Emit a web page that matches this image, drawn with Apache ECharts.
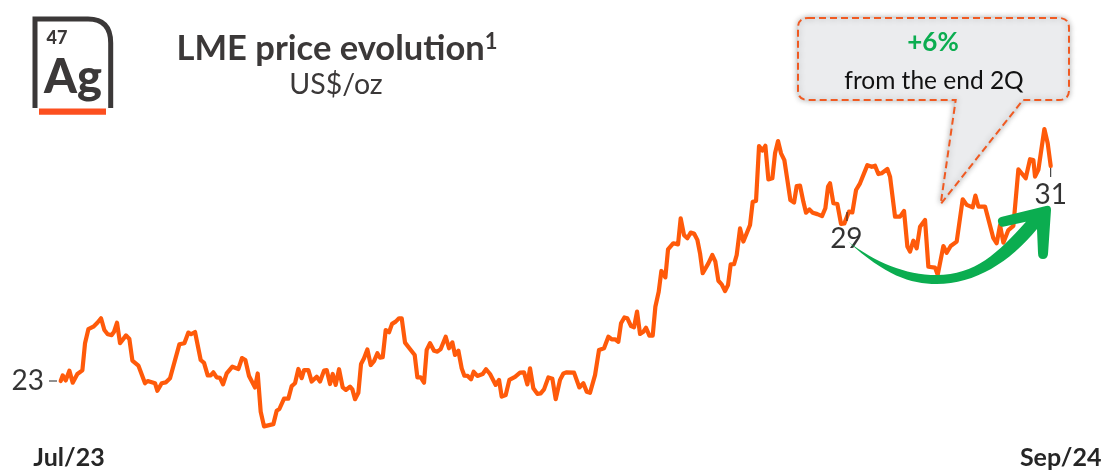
<!DOCTYPE html>
<html><head><meta charset="utf-8">
<style>html,body{margin:0;padding:0;background:#fff}#c{width:1106px;height:470px}</style>
<script src="https://cdn.jsdelivr.net/npm/echarts@6/dist/echarts.min.js"></script>
</head><body><div id="c"></div>
<script>
const days = [0,0.6,1.5,2.6,3.6,5,6.5,7.3,8.3,9.8,11,12.1,13.1,14.1,15.3,16,16.9,17.8,19.6,20.6,21.5,23.3,25.3,26.1,28.3,29,30.3,31.5,32.8,35.6,37.1,38.3,39.1,40.3,42,43,44.1,45,45.8,46.8,47.8,48.7,49.8,51.5,53.3,54.4,55.4,56.5,58.3,59.1,60,61,63.8,64.8,65.6,67,68.3,69.3,70.3,71.3,
72.3,73,74.3,75.3,76.8,77.8,79,79.8,80.8,81.6,82.5,83.5,84.6,85.6,86.8,87.5,88.3,89.3,90.1,91,92,93,94,95,95.8,96.6,97.5,98.5,99.4,100.5,101.5,102.3,103.3,104.6,106.2,107,108,109,109.8,110.8,112,113,114,115.5,116.5,117.5,118.3,119.3,120.3,121.1,122.1,123.1,123.9,125,126.6,127.6,128.8,130.5,131.5,132.3,133.5,134.6,136.3,137.8,139,140,140.8,141.8,143,144,145,146.3,147.5,148.5,149.8,150.8,151.8,154,155.6,156.8,157.8,158.8,160.3,161.5,
162,163,164.3,165.3,166.3,167.3,168.1,169.1,170,171.1,172,172.9,173.8,174.8,175.6,176.6,177.6,178.4,179.4,180.2,181.4,182.2,183.8,185.2,186,187,188,189,190,191,191.8,192.6,194.3,195.5,196.4,197.3,198.3,199.3,200.2,201,202,202.8,203.8,204.8,206.8,207.6,208.6,209.5,210.5,211.4,212.3,213.5,214.3,215.2,216.1,217.1,218,218.9,220,220.8,221.8,222.8,223.6,224.6,225.6,227,227.6,228.4,229.4,230.2,230.8,
231.8,233,234.1,235.1,236.5,237.5,238.6,239.8,242,243.3,244.3,245.3,246.3,248,248.8,250.3,251.8,253,254,254.8,255.8,256.8,257.8,259.3,260.3,262.3,263.1,264.8,265.8,267,268.8,270.6,271.8,273.6,274.4,275.3,277.3,279.8,280.8,281.8,282.8,284.3,285.8,287.3,289.5,290.8,291.8,292.3,293.3,295.1,296.1,297];
const prices = [23,23.2,23.02,23.37,22.94,23.25,23.38,24.35,24.85,24.94,25.08,25.24,24.82,24.67,24.64,24.76,25.08,24.35,24.63,24.5,23.73,23.55,22.92,23,22.92,22.65,22.92,22.95,23.1,24.31,24.35,24.73,24.67,24.75,23.75,23.65,23.2,23.2,23.31,23.13,23.11,22.88,23.27,23.51,23.43,23.82,23.75,23.18,22.77,23.27,21.9,21.38,21.46,21.94,22,22.37,22.37,22.82,22.92,23.43,
23.1,23.39,23.39,22.98,23.15,22.98,23.37,23.39,22.89,23.25,22.86,23.42,22.77,22.68,22.8,22.7,22.35,22.58,23.61,23.81,24.13,23.57,23.71,23.99,23.83,23.85,24.82,24.74,25.04,25.12,25.24,25.24,24.37,24.17,23.93,23.13,23.13,22.94,24.11,24.35,24.08,24.05,24.14,24.58,24.17,24.38,23.93,24.08,23.45,23.19,23.18,23.06,23.33,23.18,23.25,23.42,23.25,22.86,23.04,22.44,22.5,23.04,23.15,23.3,23.31,22.88,23.45,22.74,22.54,22.56,22.7,23.13,23.08,22.35,23.04,23.27,23.31,23.3,22.77,22.92,22.62,22.58,23.21,24.11,
24.13,24.17,24.58,24.49,24.49,24.4,25.06,25.27,25.24,24.96,24.92,25.48,24.68,24.76,24.9,24.62,24.62,25.65,26.19,26.93,26.7,27.7,27.92,27.88,28.81,28.21,28.1,28.3,28.27,28.04,27.56,26.85,27.2,27.5,27.26,26.58,26.45,26.21,26.43,27.17,27.17,27.5,28.45,27.98,28.57,29.4,29.43,31.39,31.23,31.4,30.2,30.24,31.13,31.57,31.13,30.89,30.18,29.46,29.37,29.96,29.98,29.4,29.01,29.13,29.01,28.96,28.99,28.89,29.17,29.94,30.06,
29.35,29.32,28.61,28.63,29.05,29.02,29.82,30.06,30.71,30.65,30.69,30.39,30.42,30.57,30.3,28.87,28.87,29.07,27.8,27.62,28.01,27.74,28.51,28.75,27.08,27.05,26.79,27.82,27.58,27.82,27.98,29.49,29.29,29.2,29.62,29.23,29.23,28.1,27.92,28.57,27.94,28.39,28.54,30.56,30.24,30.92,30.89,30.3,30.54,32,31.49,30.68];
const callDays = [0,235.1,297];
const callPrices = [23,28.63,30.68];
const callLabels = ['23','29','31'];
const xTickDays = [2.5,300];
const xTickLabels = ['Jul/23','Sep/24'];

const font = 'Lato, "Open Sans", sans-serif';
const dark = '#3b3838';
const orange = '#ff5a0a';
const green = '#0bad50';
const labelOffsets = [[-33,0],[2,16],[0,29]];

echarts.graphic.registerShape('logoFrame', echarts.graphic.extendPath('M35 108 L35 19 L88 19 Q110.7 19 110.7 43 L110.7 108', {}));
echarts.graphic.registerShape('calloutBox', echarts.graphic.extendPath('M808 18 L1059 18 Q1069 18 1069 28 L1069 90 Q1069 100 1059 100 L1023 100 L940.7 204 L955.7 100 L808 100 Q798 100 798 90 L798 28 Q798 18 808 18 Z', {}));
echarts.graphic.registerShape('growthArrow', echarts.graphic.extendPath('M848.3 241.7 C885 275 910 284 936.7 284 C975 284 1010 262 1037 229 L1038 253 Q1038 259 1043 259 Q1047.5 259 1048 254 L1051 210 Q1051 205 1046 206 L1002 216.7 Q997 218 998 222 Q999 227 1003 226.7 L1026 221.7 C998 253 975 275 936.7 275 C905 275 875 262 848.3 241.7 Z', {}));

const chart = echarts.init(document.getElementById('c'), null, {renderer:'canvas'});
chart.setOption({
  animation:false,
  grid:{left:60.7,top:101,width:1040,height:336,containLabel:false},
  xAxis:{type:'value',min:0,max:312,splitLine:{show:false},axisLine:{show:false},axisTick:{show:false},
    axisLabel:{customValues:xTickDays,margin:8,fontFamily:font,fontSize:25,fontWeight:'bold',color:'#262626',
      formatter:v=>xTickLabels[xTickDays.indexOf(v)]}},
  yAxis:{type:'value',min:21,max:33,show:false},
  series:[
    {type:'line',data:days.map((d,i)=>[d,prices[i]]),showSymbol:false,symbol:'none',smooth:false,z:3,
      lineStyle:{color:orange,width:4.2,join:'round',cap:'round'}},
    {type:'scatter',symbolSize:1,itemStyle:{color:'transparent'},z:4,silent:true,
      data:callDays.map((d,i)=>({value:[d,callPrices[i]],label:{show:true,position:'inside',fontFamily:font,fontSize:28,color:'#000',align:'center',verticalAlign:'middle',offset:labelOffsets[i],formatter:callLabels[i]}}))}
  ],
  graphic:[
    {type:'logoFrame',z:10,style:{fill:null,stroke:dark,lineWidth:5}},
    {type:'rect',z:10,shape:{x:39,y:108.5,width:67,height:6.2},style:{fill:'#fc4f1f'}},
    {type:'text',z:10,x:57,y:38.5,style:{text:'47',font:'900 18px '+font,fill:dark,align:'center',verticalAlign:'middle'}},
    {type:'text',z:10,x:73,y:78,style:{text:'Ag',font:'900 47px '+font,fill:dark,align:'center',verticalAlign:'middle'}},
    {type:'text',z:10,x:337,y:49,style:{
      text:'{t|LME price evolution}{s|1}',align:'center',verticalAlign:'middle',
      rich:{t:{font:'bold 34.5px '+font,fill:dark},s:{font:'bold 22px '+font,fill:dark,verticalAlign:'top',padding:[0,0,15,0]}}}},
    {type:'text',z:10,x:336,y:85,style:{text:'US$/oz',font:'28.5px '+font,fill:dark,align:'center',verticalAlign:'middle'}},
    {type:'calloutBox',z:8,style:{fill:'#ebecee',stroke:'#f05a22',lineWidth:2,lineDash:[7,4],shadowBlur:6,shadowColor:'rgba(0,0,0,0.3)',shadowOffsetY:0}},
    {type:'text',z:9,x:933,y:43,style:{text:'+6%',font:'bold 26px '+font,fill:green,align:'center',verticalAlign:'middle'}},
    {type:'text',z:9,x:934,y:81,style:{text:'from the end 2Q',font:'24.5px '+font,fill:'#111',align:'center',verticalAlign:'middle'}},
    {type:'line',z:6,shape:{x1:49,y1:381,x2:57,y2:381},style:{stroke:'#222',lineWidth:1}},
    {type:'line',z:6,shape:{x1:847,y1:212,x2:847,y2:221},style:{stroke:'#222',lineWidth:1}},
    {type:'line',z:6,shape:{x1:1050.7,y1:168,x2:1050.7,y2:177},style:{stroke:'#222',lineWidth:1}},
    {type:'growthArrow',z:7,style:{fill:green}}
  ]
});
</script></body></html>
